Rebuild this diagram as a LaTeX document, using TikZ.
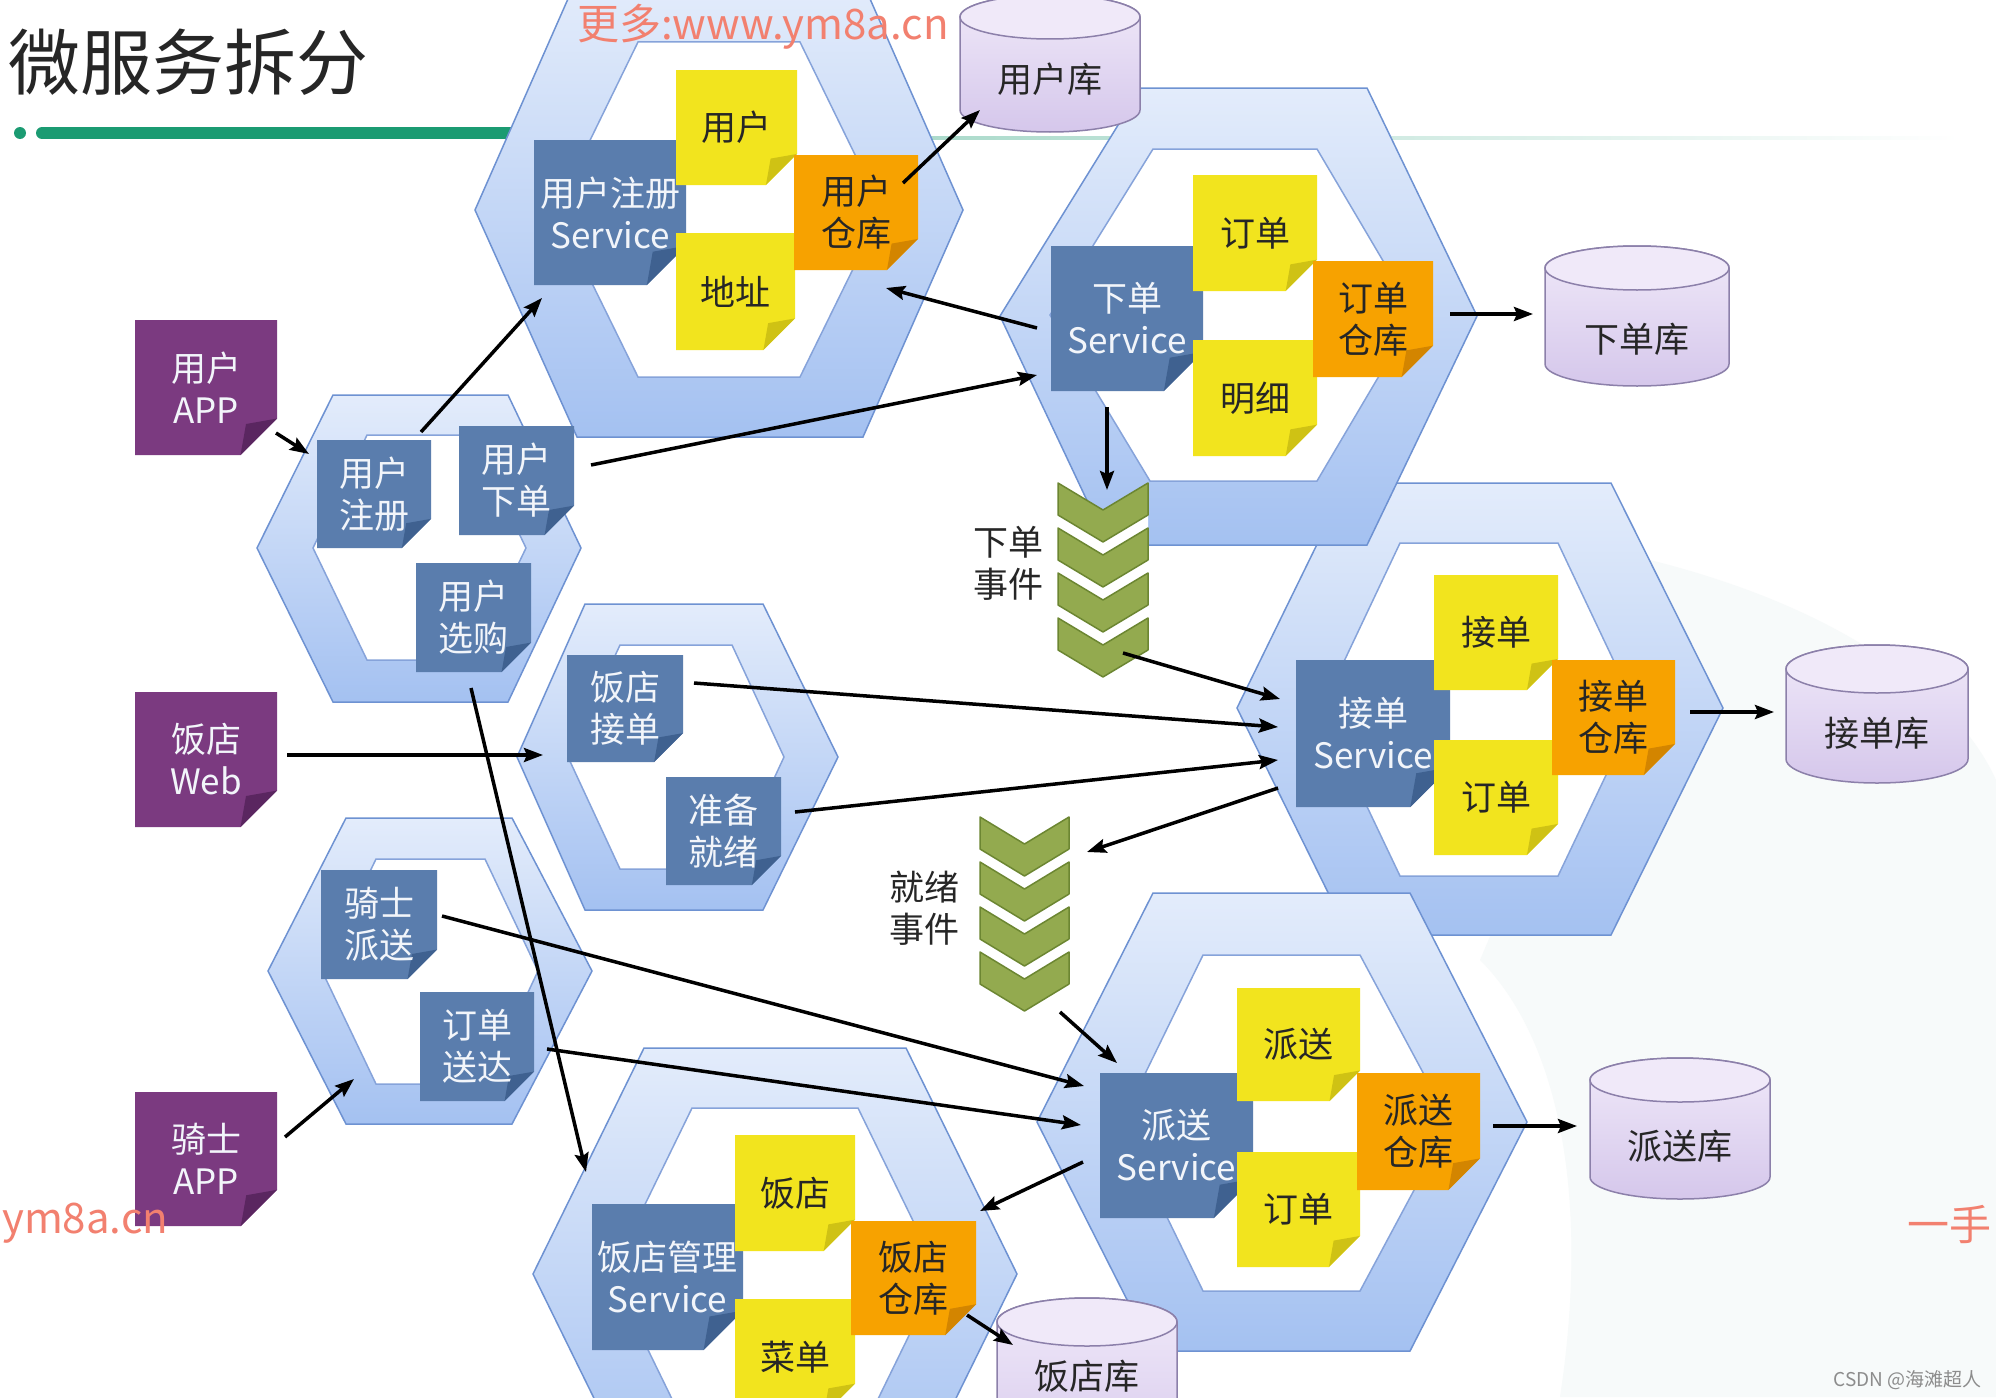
\documentclass[tikz,border=0pt]{standalone}
\usepackage{fontspec}
\newfontfamily\cjk{Noto Sans CJK SC}
\usetikzlibrary{arrows.meta}
\definecolor{hexTop}{HTML}{E3ECFB}
\definecolor{hexBot}{HTML}{A4C1F1}
\definecolor{hexLine}{HTML}{6E92D2}
\definecolor{innerLine}{HTML}{86A3DA}
\definecolor{bluebox}{HTML}{5A7DAD}
\definecolor{bluefold}{HTML}{3F6190}
\definecolor{yel}{HTML}{F2E41E}
\definecolor{yelfold}{HTML}{CFC214}
\definecolor{org}{HTML}{F7A200}
\definecolor{orgfold}{HTML}{D38500}
\definecolor{pur}{HTML}{7B3A80}
\definecolor{purfold}{HTML}{5A2660}
\definecolor{chevF}{HTML}{93AA4F}
\definecolor{chevL}{HTML}{6C8632}
\definecolor{cylTop}{HTML}{F0E9F9}
\definecolor{cylBot}{HTML}{D5C7EB}
\definecolor{cylLine}{HTML}{8C80AA}
\definecolor{wm}{HTML}{F2806F}
\definecolor{grn}{HTML}{1B9B72}
\definecolor{txt}{HTML}{262626}
\definecolor{boxtxt}{HTML}{F2F5FA}
\definecolor{faint}{HTML}{F7FAFA}

\newcommand\nbox[9]{%
  \pgfmathsetmacro\nbf{0.27*min(#4-#2,#5-#3)}%
  \fill[#6] (#2,#3) -- (#4,#3) -- (#4,{#5-\nbf}) -- ({#4-\nbf},#5) -- (#2,#5) -- cycle;
  \fill[#7] ({#4-\nbf},#5) -- ({#4-0.85*\nbf},{#5-0.85*\nbf}) -- (#4,{#5-\nbf}) -- cycle;
  \node[boxtext,text=#8] (#1) at ({(#2+#4)/2},{(#3+#5)/2}) {#9};
}
\newcommand\cyl[8]{%
  \path[cylbody] ({#2-#5},#3) -- ({#2-#5},#4) arc[start angle=180,end angle=0,x radius=#5,y radius=#6] -- ({#2+#5},#3) arc[start angle=0,end angle=-180,x radius=#5,y radius=#6] -- cycle;
  \path[cyltop] (#2,#3) ellipse[x radius=#5, y radius=#6];
  \node[lbl] (#1) at (#2,#8) {#7};
}

\begin{document}
\begin{tikzpicture}[x=1pt,y=-1pt,
  outer/.style={top color=hexTop, bottom color=hexBot, draw=hexLine, line width=1.5pt},
  inner/.style={fill=white, draw=innerLine, line width=1.5pt},
  boxtext/.style={font=\cjk\fontsize{35}{42}\selectfont, align=center, inner sep=0pt},
  lbl/.style={font=\cjk\fontsize{35}{42}\selectfont, align=center, inner sep=0pt, text=txt},
  cylbody/.style={top color=cylTop, bottom color=cylBot, draw=cylLine, line width=1.5pt},
  cyltop/.style={fill=cylTop, draw=cylLine, line width=1.5pt},
  chev/.style={fill=chevF, draw=chevL, line width=1.5pt, line join=round},
  arr/.style={-{Stealth[length=19pt,width=14pt,inset=3pt]}, line width=3.5pt, black},
  wmark/.style={font=\cjk\fontsize{42}{46}\selectfont, text=wm, inner sep=0pt}
]
\useasboundingbox (0,0) rectangle (1996,1397);
\clip (0,0) rectangle (1996,1397);
\fill[white] (0,0) rectangle (1996,1397);

% faint background swoosh
\fill[faint] (1650,560) .. controls (1850,610) and (1960,700) .. (1996,780) -- (1996,1397) -- (1560,1397) .. controls (1590,1200) and (1560,1040) .. (1480,960) -- cycle;

% title and rule
\node[font=\cjk\fontsize{72}{80}\selectfont, text=txt, anchor=base west, inner sep=0pt] (title) at (8,89) {微服务拆分};
\fill[grn] (20,133) circle[radius=6];
\draw[grn, line width=12pt, line cap=round] (42,133) -- (600,133);
\shade[left color=grn!45!white, right color=white] (700,136.5) rectangle (1960,139.5);

% hexagons
\path[outer] (257,548)--(333,395)--(508,395)--(581,548)--(508,702)--(333,702)--cycle;
\path[inner] (313,548)--(367,435)--(472,435)--(526,548)--(472,660)--(367,660)--cycle;
\path[outer] (517,757)--(585,604)--(763,604)--(838,757)--(763,910)--(585,910)--cycle;
\path[inner] (568,757)--(620,645)--(732,645)--(784,757)--(732,869)--(620,869)--cycle;
\path[outer] (268,971)--(346,818)--(512,818)--(592,971)--(512,1124)--(346,1124)--cycle;
\path[inner] (322,971)--(376,859)--(485,859)--(538,971)--(485,1084)--(376,1084)--cycle;
\path[outer] (533,1274)--(644,1048)--(906,1048)--(1017,1274)--(906,1500)--(644,1500)--cycle;
\path[inner] (611,1274)--(692,1108)--(858,1108)--(939,1274)--(858,1440)--(692,1440)--cycle;
\path[outer] (475,210)--(575,-17)--(863,-17)--(963,210)--(863,437)--(577,437)--cycle;
\path[inner] (556,210)--(638,42)--(800,42)--(882,210)--(800,377)--(638,377)--cycle;
\path[outer] (1237,708)--(1347,483)--(1611,483)--(1723,708)--(1611,935)--(1349,935)--cycle;
\path[inner] (1321,710)--(1400,543)--(1558,543)--(1637,710)--(1558,876)--(1400,876)--cycle;
\path[outer] (1000,316)--(1141,88)--(1367,88)--(1477,316)--(1367,545)--(1108,545)--cycle;
\path[inner] (1050,315)--(1153,149)--(1317,149)--(1415,315)--(1317,481)--(1150,481)--cycle;
\path[outer] (1037,1122)--(1153,893)--(1410,893)--(1527,1122)--(1410,1351)--(1153,1351)--cycle;
\path[inner] (1121,1123)--(1203,955)--(1360,955)--(1450,1123)--(1360,1291)--(1203,1291)--cycle;

% event chevrons
\foreach \y in {528,573,618} \fill[white] (1058,{\y-13}) -- (1103,{\y+14}) -- (1148,{\y-13}) -- (1148,{\y+32}) -- (1103,{\y+59}) -- (1058,{\y+32}) -- cycle;
\foreach \y in {483,528,573,618} \path[chev] (1058,\y) -- (1103,{\y+27}) -- (1148,\y) -- (1148,{\y+32}) -- (1103,{\y+59}) -- (1058,{\y+32}) -- cycle;
\foreach \y in {862,907,952} \fill[white] (980,{\y-13}) -- (1024.5,{\y+14}) -- (1069,{\y-13}) -- (1069,{\y+32}) -- (1024.5,{\y+59}) -- (980,{\y+32}) -- cycle;
\foreach \y in {817,862,907,952} \path[chev] (980,\y) -- (1024.5,{\y+27}) -- (1069,\y) -- (1069,{\y+32}) -- (1024.5,{\y+59}) -- (980,{\y+32}) -- cycle;
\node[lbl] (evt1) at (1008,563) {下单\\事件};
\node[lbl] (evt2) at (924,908) {就绪\\事件};

% clients
\nbox{p1}{135}{320}{277}{455}{pur}{purfold}{boxtxt}{用户\\APP}
\nbox{p2}{135}{692}{277}{827}{pur}{purfold}{boxtxt}{饭店\\Web}
\nbox{p3}{135}{1092}{277}{1226}{pur}{purfold}{boxtxt}{骑士\\APP}

% hex C, D, E functions
\nbox{c1}{317}{440}{431}{548}{bluebox}{bluefold}{boxtxt}{用户\\注册}
\nbox{c2}{459}{426}{574}{535}{bluebox}{bluefold}{boxtxt}{用户\\下单}
\nbox{c3}{416}{563}{531}{672}{bluebox}{bluefold}{boxtxt}{用户\\选购}
\nbox{d1}{567}{655}{683}{762}{bluebox}{bluefold}{boxtxt}{饭店\\接单}
\nbox{d2}{666}{777}{781}{885}{bluebox}{bluefold}{boxtxt}{准备\\就绪}
\nbox{e1}{321}{870}{437}{979}{bluebox}{bluefold}{boxtxt}{骑士\\派送}
\nbox{e2}{420}{992}{534}{1101}{bluebox}{bluefold}{boxtxt}{订单\\送达}

% hex A
\nbox{svcA}{534}{140}{686}{285}{bluebox}{bluefold}{boxtxt}{用户注册\\Service}
\nbox{yA1}{676}{70}{797}{185}{yel}{yelfold}{txt}{用户}
\nbox{yA2}{676}{233}{795}{350}{yel}{yelfold}{txt}{地址}
\nbox{oA}{794}{155}{918}{270}{org}{orgfold}{txt}{用户\\仓库}
% hex B
\nbox{svcB}{1051}{246}{1203}{391}{bluebox}{bluefold}{boxtxt}{下单\\Service}
\nbox{yB1}{1193}{175}{1317}{291}{yel}{yelfold}{txt}{订单}
\nbox{yB2}{1193}{340}{1317}{456}{yel}{yelfold}{txt}{明细}
\nbox{oB}{1313}{261}{1433}{377}{org}{orgfold}{txt}{订单\\仓库}
% hex G
\nbox{svcG}{1296}{660}{1450}{807}{bluebox}{bluefold}{boxtxt}{接单\\Service}
\nbox{yG1}{1434}{575}{1558}{690}{yel}{yelfold}{txt}{接单}
\nbox{yG2}{1434}{740}{1558}{855}{yel}{yelfold}{txt}{订单}
\nbox{oG}{1552}{660}{1675}{775}{org}{orgfold}{txt}{接单\\仓库}
% hex H
\nbox{svcH}{1100}{1073}{1253}{1218}{bluebox}{bluefold}{boxtxt}{派送\\Service}
\nbox{yH1}{1237}{988}{1360}{1101}{yel}{yelfold}{txt}{派送}
\nbox{yH2}{1237}{1152}{1360}{1267}{yel}{yelfold}{txt}{订单}
\nbox{oH}{1357}{1073}{1480}{1190}{org}{orgfold}{txt}{派送\\仓库}
% hex F
\nbox{svcF}{592}{1204}{743}{1350}{bluebox}{bluefold}{boxtxt}{饭店管理\\Service}
\nbox{yF1}{735}{1135}{855}{1251}{yel}{yelfold}{txt}{饭店}
\nbox{yF2}{735}{1299}{855}{1415}{yel}{yelfold}{txt}{菜单}
\nbox{oF}{851}{1221}{976}{1335}{org}{orgfold}{txt}{饭店\\仓库}

% databases
\cyl{db1}{1050}{17}{110}{90}{22}{用户库}{79}
\cyl{db2}{1637}{268}{364}{92}{22}{下单库}{339}
\cyl{db3}{1877}{669}{759}{91}{24}{接单库}{733}
\cyl{db4}{1680}{1080}{1177}{90}{22}{派送库}{1146}
\cyl{db5}{1087}{1322}{1460}{90}{24}{饭店库}{1376}

% connector end points
\coordinate (a1s) at (276,433);  \coordinate (a1e) at (309,454);
\coordinate (a2s) at (421,432);  \coordinate (a2e) at (542,298);
\coordinate (a3s) at (591,465);  \coordinate (a3e) at (1037,375);
\coordinate (a4s) at (1037,328); \coordinate (a4e) at (886,288);
\coordinate (a5s) at (903,183);  \coordinate (a5e) at (980,110);
\coordinate (a6s) at (1450,314); \coordinate (a6e) at (1533,314);
\coordinate (a7s) at (1107,407); \coordinate (a7e) at (1107,490);
\coordinate (a8s) at (1123,653); \coordinate (a8e) at (1280,699);
\coordinate (a9s) at (694,683);  \coordinate (a9e) at (1278,727);
\coordinate (a10s) at (287,755); \coordinate (a10e) at (543,755);
\coordinate (a11s) at (795,812); \coordinate (a11e) at (1278,760);
\coordinate (a12s) at (1278,788); \coordinate (a12e) at (1087,852);
\coordinate (a13s) at (471,688); \coordinate (a13e) at (586,1172);
\coordinate (a14s) at (285,1137); \coordinate (a14e) at (354,1079);
\coordinate (a15s) at (442,916); \coordinate (a15e) at (1084,1086);
\coordinate (a16s) at (547,1049); \coordinate (a16e) at (1081,1125);
\coordinate (a17s) at (1060,1012); \coordinate (a17e) at (1117,1063);
\coordinate (a18s) at (1083,1162); \coordinate (a18e) at (980,1211);
\coordinate (a19s) at (967,1315); \coordinate (a19e) at (1013,1345);
\coordinate (a20s) at (1690,712); \coordinate (a20e) at (1774,712);
\coordinate (a21s) at (1493,1126); \coordinate (a21e) at (1577,1126);

\foreach \i in {1,...,21} \draw[arr] (a\i s) -- (a\i e);

% watermarks
\node[wmark, anchor=base west] (wm1) at (577,40) {更多:www.ym8a.cn};
\node[wmark, anchor=base west] (wm2) at (2,1233) {ym8a.cn};
\node[wmark, anchor=base east] (wm3) at (1992,1240) {一手};
\node[font=\cjk\fontsize{19}{22}\selectfont, text=black!45, anchor=base east, inner sep=0pt] (csdn) at (1982,1386) {CSDN @海滩超人};
\end{tikzpicture}
\end{document}
